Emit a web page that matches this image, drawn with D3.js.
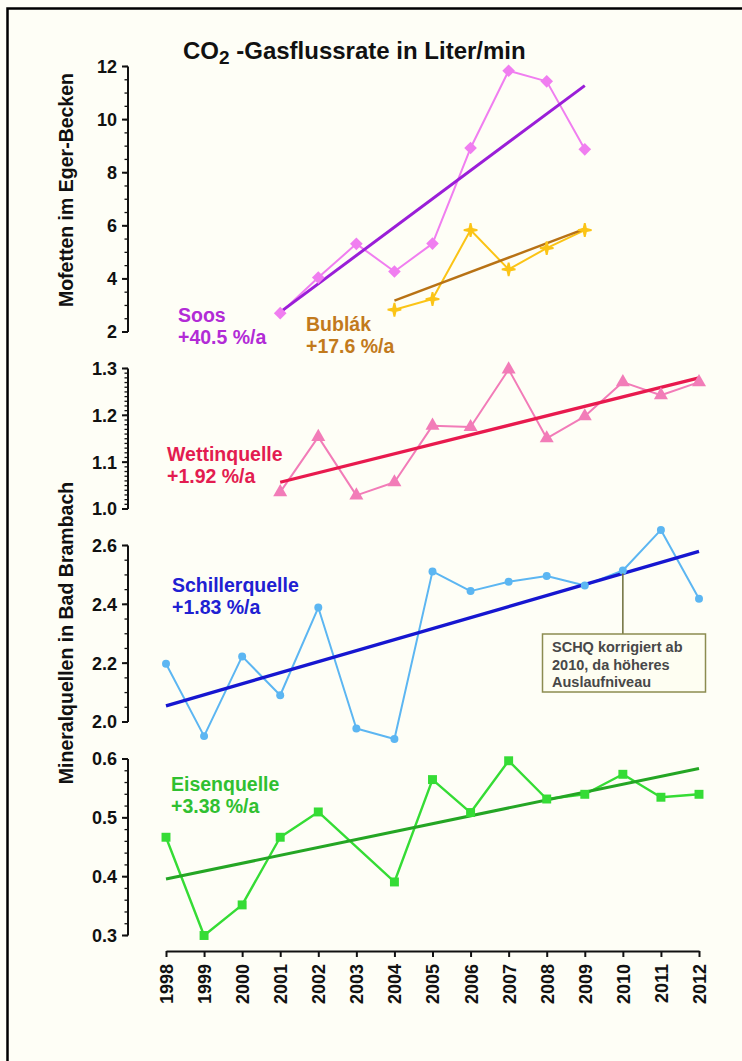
<!DOCTYPE html>
<html>
<head>
<meta charset="utf-8">
<script src="https://cdn.jsdelivr.net/npm/d3@7"></script>
<style>
  html, body { margin: 0; padding: 0; background: #fefef6; }
  svg { display: block; font-family: "Liberation Sans", Arial, sans-serif; }
</style>
</head>
<body>
<svg id="chart" width="742" height="1061"></svg>
<script>
// Years on the shared horizontal axis
const years = [1998, 1999, 2000, 2001, 2002, 2003, 2004, 2005, 2006, 2007, 2008, 2009, 2010, 2011, 2012];

// CO2 gas flow of the mofettes (litres/min)
const soosYears = [2001, 2002, 2003, 2004, 2005, 2006, 2007, 2008, 2009];
const soosValues = [2.71, 4.05, 5.32, 4.28, 5.33, 8.93, 11.84, 11.44, 8.88];
const soosTrendYears = [2001, 2009];
const soosTrend = [2.75, 11.28];

const bublakYears = [2004, 2005, 2006, 2007, 2008, 2009];
const bublakValues = [2.84, 3.24, 5.84, 4.36, 5.16, 5.84];
const bublakTrendYears = [2004, 2009];
const bublakTrend = [3.18, 5.88];

// Mineral springs in Bad Brambach
const wettinYears = [2001, 2002, 2003, 2004, 2005, 2006, 2007, 2008, 2009, 2010, 2011, 2012];
const wettinValues = [1.036, 1.154, 1.029, 1.057, 1.178, 1.175, 1.298, 1.151, 1.198, 1.271, 1.243, 1.271];
const wettinTrendYears = [2001, 2012];
const wettinTrend = [1.057, 1.280];

const schillerValues = [2.198, 1.952, 2.223, 2.091, 2.389, 1.978, 1.942, 2.512, 2.445, 2.477, 2.496, 2.464, 2.515, 2.653, 2.419];
const schillerTrendYears = [1998, 2012];
const schillerTrend = [2.055, 2.580];

const eisenValues = [0.467, 0.300, 0.352, 0.467, 0.510, null, 0.391, 0.565, 0.509, 0.597, 0.532, 0.540, 0.574, 0.535, 0.540];
const eisenTrendYears = [1998, 2012];
const eisenTrend = [0.396, 0.584];

// Tick values for each panel
const ticksSoos = [2, 4, 6, 8, 10, 12];
const ticksWettin = [1.0, 1.1, 1.2, 1.3];
const ticksSchiller = [2.0, 2.2, 2.4, 2.6];
const ticksEisen = [0.3, 0.4, 0.5, 0.6];

const svg = d3.select("#chart");
const W = 742, H = 1061;

svg.append("rect").attr("width", W).attr("height", H).attr("fill", "#fefef6");
// frame
svg.append("path").attr("d", `M7.5,${H} V8.5 H${W}`)
  .attr("fill", "none").attr("stroke", "#000").attr("stroke-width", 2.5);

const x = d3.scaleLinear().domain([1998, 2012]).range([166, 699]);
const axisX = 128;

const ySoos = d3.scaleLinear().domain([2, 12]).range([332, 66.5]);
const yWettin = d3.scaleLinear().domain([1.0, 1.3]).range([509, 368.5]);
const ySchiller = d3.scaleLinear().domain([2.0, 2.6]).range([722, 545.5]);
const yEisen = d3.scaleLinear().domain([0.3, 0.6]).range([935.5, 759]);

function yAxis(scale, ticks, minorStep, fmt) {
  const g = svg.append("g").attr("transform", `translate(${axisX},0)`);
  const [d0, d1] = scale.domain();
  const n = Math.round((d1 - d0) / minorStep);
  const minor = d3.range(n + 1).map(i => d0 + i * minorStep);
  g.append("line").attr("x1", 0).attr("x2", 0)
    .attr("y1", scale(d0)).attr("y2", scale(d1))
    .attr("stroke", "#111").attr("stroke-width", 2);
  g.selectAll(".mn").data(minor).enter().append("line")
    .attr("x1", -3.5).attr("x2", 0)
    .attr("y1", d => scale(d)).attr("y2", d => scale(d))
    .attr("stroke", "#111").attr("stroke-width", 1.3);
  g.selectAll(".mj").data(ticks).enter().append("line")
    .attr("x1", -6).attr("x2", 0)
    .attr("y1", d => scale(d)).attr("y2", d => scale(d))
    .attr("stroke", "#111").attr("stroke-width", 2);
  g.selectAll(".lb").data(ticks).enter().append("text")
    .attr("x", -11).attr("y", d => scale(d)).attr("dy", "0.36em")
    .attr("text-anchor", "end").attr("font-size", 18).attr("font-weight", "bold")
    .attr("fill", "#111").text(d => fmt(d));
}

yAxis(ySoos, ticksSoos, 0.5, d3.format("d"));
yAxis(yWettin, ticksWettin, 0.01, d3.format(".1f"));
yAxis(ySchiller, ticksSchiller, 0.05, d3.format(".1f"));
yAxis(yEisen, ticksEisen, 0.02, d3.format(".1f"));

// bottom year axis
const xAxis = d3.axisBottom(x).tickValues(years).tickFormat(d3.format("d")).tickSize(6).tickSizeOuter(0);
const gx = svg.append("g").attr("transform", "translate(0,951)").call(xAxis);
gx.select(".domain").attr("stroke", "#111").attr("stroke-width", 2.2);
gx.selectAll(".tick line").attr("stroke", "#111").attr("stroke-width", 2);
gx.selectAll(".tick text")
  .attr("transform", "rotate(-90)")
  .attr("x", -13).attr("y", 0).attr("dy", "0.36em")
  .attr("text-anchor", "end")
  .attr("font-size", 18).attr("font-weight", "bold").attr("fill", "#111")
  .attr("font-family", "'Liberation Sans', Arial, sans-serif");

// axis titles
svg.append("text").attr("transform", "translate(73,190) rotate(-90)")
  .attr("text-anchor", "middle").attr("font-size", 19.5).attr("font-weight", "bold")
  .attr("fill", "#111").text("Mofetten im Eger-Becken");
svg.append("text").attr("transform", "translate(73,633) rotate(-90)")
  .attr("text-anchor", "middle").attr("font-size", 19.5).attr("font-weight", "bold")
  .attr("fill", "#111").text("Mineralquellen in Bad Brambach");

// chart title
const title = svg.append("text").attr("x", 183).attr("y", 59)
  .attr("font-size", 24).attr("font-weight", "bold").attr("fill", "#111");
title.append("tspan").text("CO");
title.append("tspan").attr("font-size", 19).attr("dy", 5).text("2");
title.append("tspan").attr("dy", -5).text(" -Gasflussrate in Liter/min");

// helpers
function series(xs, ys, yScale, color, width) {
  const pts = xs.map((yr, i) => [yr, ys[i]]).filter(p => p[1] != null);
  svg.append("path").datum(pts)
    .attr("fill", "none").attr("stroke", color).attr("stroke-width", width)
    .attr("stroke-linejoin", "round")
    .attr("d", d3.line().x(p => x(p[0])).y(p => yScale(p[1])));
  return pts;
}
function markers(pts, yScale, symbol, size, color, rotate) {
  svg.append("g").selectAll("path").data(pts).enter().append("path")
    .attr("transform", p => `translate(${x(p[0])},${yScale(p[1])}) rotate(${rotate || 0})`)
    .attr("d", d3.symbol().type(symbol).size(size))
    .attr("fill", color);
}
function trend(xs, ys, yScale, color, width) {
  svg.append("path").datum(xs.map((yr, i) => [yr, ys[i]]))
    .attr("fill", "none").attr("stroke", color).attr("stroke-width", width)
    .attr("d", d3.line().x(p => x(p[0])).y(p => yScale(p[1])));
}
function label(xp, yp, lines, color) {
  const t = svg.append("text").attr("x", xp).attr("y", yp)
    .attr("font-size", 19.5).attr("font-weight", "bold").attr("fill", color);
  lines.forEach((s, i) => t.append("tspan").attr("x", xp).attr("dy", i ? 21.5 : 0).text(s));
}

// plus-shaped star with tapered arms, used for Bublák
const star4 = {
  draw(ctx, size) {
    const r = Math.sqrt(size) * 0.55, w = 2.0, t = 0.9;
    ctx.moveTo(-t, -r); ctx.lineTo(t, -r); ctx.lineTo(w, -w);
    ctx.lineTo(r, -t); ctx.lineTo(r, t); ctx.lineTo(w, w);
    ctx.lineTo(t, r); ctx.lineTo(-t, r); ctx.lineTo(-w, w);
    ctx.lineTo(-r, t); ctx.lineTo(-r, -t); ctx.lineTo(-w, -w);
    ctx.closePath();
  }
};

// Soos
const soosPts = series(soosYears, soosValues, ySoos, "#f07ef0", 2);
trend(soosTrendYears, soosTrend, ySoos, "#9a1ed8", 3);
markers(soosPts, ySoos, d3.symbolSquare, 80, "#f07ef0", 45);

// Bublák
const bubPts = series(bublakYears, bublakValues, ySoos, "#fbc416", 2);
trend(bublakTrendYears, bublakTrend, ySoos, "#b87214", 2.4);
markers(bubPts, ySoos, star4, 160, "#fbc416");

label(178, 322, ["Soos", "+40.5 %/a"], "#b22bd6");
label(306, 331, ["Bublák", "+17.6 %/a"], "#c27a1c");

// Wettinquelle
const wetPts = series(wettinYears, wettinValues, yWettin, "#f27cb8", 2);
trend(wettinTrendYears, wettinTrend, yWettin, "#e81a4e", 3.2);
markers(wetPts, yWettin, d3.symbolTriangle, 85, "#f27cb8");
label(167, 461, ["Wettinquelle", "+1.92 %/a"], "#e31c50");

// Schillerquelle
const schPts = series(years, schillerValues, ySchiller, "#5cb6f2", 2);
trend(schillerTrendYears, schillerTrend, ySchiller, "#1616d0", 3.4);
markers(schPts, ySchiller, d3.symbolCircle, 50, "#5cb6f2");
label(172, 592, ["Schillerquelle", "+1.83 %/a"], "#2020d2");

// note on the Schillerquelle correction
const noteX = x(2010);
const noteY = ySchiller(schillerTrend[0] + (schillerTrend[1] - schillerTrend[0]) * (2010 - 1998) / 14);
svg.append("line").attr("x1", noteX).attr("x2", noteX).attr("y1", noteY).attr("y2", 634)
  .attr("stroke", "#6e6e3a").attr("stroke-width", 1.5);
svg.append("rect").attr("x", 542.5).attr("y", 634).attr("width", 163).attr("height", 58)
  .attr("fill", "#fefef2").attr("stroke", "#8c8c50").attr("stroke-width", 1.5);
const note = svg.append("text").attr("x", 552).attr("y", 652)
  .attr("font-size", 14.5).attr("font-weight", "bold").attr("fill", "#484848");
["SCHQ korrigiert ab", "2010, da höheres", "Auslaufniveau"].forEach((s, i) =>
  note.append("tspan").attr("x", 552).attr("dy", i ? 17.5 : 0).text(s));

// Eisenquelle
const eisPts = series(years, eisenValues, yEisen, "#35dc35", 2.4);
trend(eisenTrendYears, eisenTrend, yEisen, "#24a624", 3);
markers(eisPts, yEisen, d3.symbolSquare, 80, "#35dc35");
label(171, 791, ["Eisenquelle", "+3.38 %/a"], "#30c030");
</script>
</body>
</html>
